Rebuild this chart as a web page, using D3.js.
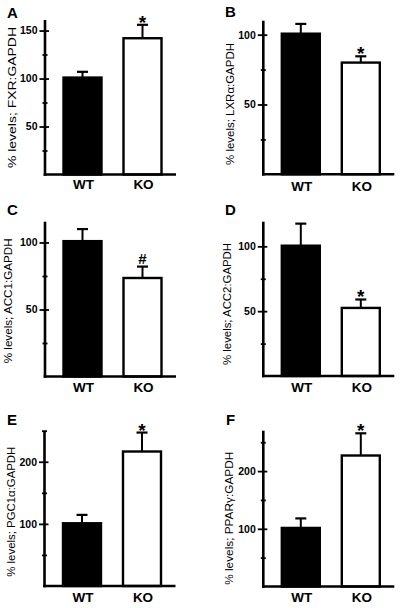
<!DOCTYPE html>
<html>
<head>
<meta charset="utf-8">
<script src="https://cdn.jsdelivr.net/npm/d3@7"></script>
<style>
  html, body { margin: 0; padding: 0; background: #fff; }
  svg { display: block; }
  text { font-family: "Liberation Sans", Arial, sans-serif; fill: #000; }
</style>
</head>
<body>
<script>
// ---------- DATA ----------
const panelLetters = ["A", "B", "C", "D", "E", "F"];
const yLabels = [
  "% levels; FXR:GAPDH",
  "% levels; LXRα:GAPDH",
  "% levels; ACC1:GAPDH",
  "% levels; ACC2:GAPDH",
  "% levels; PGC1α:GAPDH",
  "% levels; PPARγ:GAPDH"
];
const groups = ["WT", "KO"];
const wtValues = [101, 100.7, 101, 100.5, 101, 101.5];
const wtErrors = [6, 7, 9, 17, 13.5, 16.5];
const koValues = [142, 80, 73.5, 52.5, 216.5, 227];
const koErrors = [14, 4.5, 8.5, 6.5, 30.5, 38.5];
const koMarks = ["*", "*", "#", "*", "*", "*"];
const yMax = [161, 110, 115.5, 119, 250, 270];
const majorTicks = [[50, 100, 150], [50, 100], [50, 100], [50, 100], [100, 200], [100, 200]];
const minorTicks = [[25, 75, 125], [25, 75], [25, 75], [25, 75], [50, 150, 250], [50, 150, 250]];

// ---------- LAYOUT ----------
const layout = [
  { ax: 45,    y0: 174.5, yTop: 20,    lx: 15.7,  ly: 97.5,  len: 141, letX: 7,   letY: 18,  labY: 189 },
  { ax: 263.3, y0: 174.3, yTop: 20.7,  lx: 234.3, ly: 104,   len: 122, letX: 225, letY: 17,  labY: 191 },
  { ax: 45,    y0: 376.5, yTop: 221.7, lx: 12.3,  ly: 300.8, len: 125, letX: 7,   letY: 215, labY: 391.5 },
  { ax: 263.3, y0: 376,   yTop: 221.7, lx: 231,   ly: 304,   len: 122, letX: 225, letY: 215, labY: 392 },
  { ax: 44.5,  y0: 586,   yTop: 430.7, lx: 15,    ly: 511.7, len: 130, letX: 7,   letY: 425, labY: 601.5 },
  { ax: 263.3, y0: 586.5, yTop: 430.7, lx: 233.3, ly: 518.3, len: 133, letX: 226, letY: 425, labY: 601.5 }
];

const svg = d3.select("body").append("svg")
  .attr("width", 400).attr("height", 608);

panelLetters.forEach((letter, i) => {
  const L = layout[i];
  const g = svg.append("g");

  const y = d3.scaleLinear().domain([0, yMax[i]]).range([L.y0, L.yTop]);
  const x = d3.scaleBand().domain(groups)
    .range([L.ax + 17.5, L.ax + 117.5]).paddingInner(1 / 3).paddingOuter(0);
  const bw = x.bandwidth();

  const values = [wtValues[i], koValues[i]];
  const errors = [wtErrors[i], koErrors[i]];
  const rows = groups.map((gname, k) => ({ g: gname, v: values[k], e: errors[k] }));

  // error bars (upward only)
  rows.forEach(r => {
    const cx = x(r.g) + bw / 2;
    g.append("line")
      .attr("x1", cx).attr("x2", cx)
      .attr("y1", y(r.v)).attr("y2", y(r.v + r.e))
      .attr("stroke", "#000").attr("stroke-width", 2);
    g.append("line")
      .attr("x1", cx - 5.5).attr("x2", cx + 5.5)
      .attr("y1", y(r.v + r.e)).attr("y2", y(r.v + r.e))
      .attr("stroke", "#000").attr("stroke-width", 2.2);
  });

  // bars
  g.selectAll("rect.bar").data(rows).enter().append("rect")
    .attr("class", "bar")
    .attr("x", d => x(d.g) + 1)
    .attr("y", d => y(d.v))
    .attr("width", bw - 2)
    .attr("height", d => y(0) - y(d.v))
    .attr("fill", d => d.g === "WT" ? "#000" : "#fff")
    .attr("stroke", "#000")
    .attr("stroke-width", 2.4);

  // significance mark
  const kr = rows[1];
  const kcx = x(kr.g) + bw / 2;
  const mark = koMarks[i];
  g.append("text")
    .attr("x", kcx)
    .attr("y", mark === "#" ? y(kr.v + kr.e) - 3 : y(kr.v + kr.e) + 4)
    .attr("text-anchor", "middle")
    .attr("font-weight", "bold")
    .attr("font-size", mark === "#" ? 15 : 19)
    .text(mark);

  // y axis: major ticks (crossing the axis)
  const majLeft = d3.axisLeft(y).tickValues(majorTicks[i]).tickSizeInner(5.5).tickSizeOuter(0)
    .tickPadding(2).tickFormat(d3.format("d"));
  const ga = g.append("g").attr("transform", `translate(${L.ax},0)`).call(majLeft);
  ga.select(".domain").remove();
  ga.selectAll(".tick line").attr("stroke", "#000").attr("stroke-width", 1.8);
  ga.selectAll(".tick text").attr("font-size", 10.5).attr("font-weight", "bold")
    .attr("font-family", "Liberation Sans, Arial, sans-serif").attr("fill", "#000");

  const majRight = d3.axisRight(y).tickValues(majorTicks[i]).tickSizeInner(4).tickSizeOuter(0).tickFormat("");
  const gb = g.append("g").attr("transform", `translate(${L.ax},0)`).call(majRight);
  gb.select(".domain").remove();
  gb.selectAll(".tick line").attr("stroke", "#000").attr("stroke-width", 1.8);

  // minor ticks
  [d3.axisLeft(y), d3.axisRight(y)].forEach(ax => {
    const gm = g.append("g").attr("transform", `translate(${L.ax},0)`)
      .call(ax.tickValues(minorTicks[i]).tickSizeInner(2.5).tickSizeOuter(0).tickFormat(""));
    gm.select(".domain").remove();
    gm.selectAll(".tick line").attr("stroke", "#000").attr("stroke-width", 1.8);
  });

  // axis lines
  g.append("line")
    .attr("x1", L.ax).attr("x2", L.ax)
    .attr("y1", y(yMax[i])).attr("y2", y(0) + 1.3)
    .attr("stroke", "#000").attr("stroke-width", 2.6);
  g.append("line")
    .attr("x1", L.ax - 1.3).attr("x2", L.ax + 131)
    .attr("y1", y(0)).attr("y2", y(0))
    .attr("stroke", "#000").attr("stroke-width", 2.6);

  // group labels
  g.selectAll("text.grp").data(groups).enter().append("text")
    .attr("class", "grp")
    .attr("x", d => x(d) + bw / 2 + 1)
    .attr("y", L.labY)
    .attr("text-anchor", "middle")
    .attr("font-weight", "bold")
    .attr("font-size", 13.5)
    .text(d => d);

  // y label
  g.append("text")
    .attr("transform", `translate(${L.lx},${L.ly}) rotate(-90)`)
    .attr("text-anchor", "middle")
    .attr("font-size", 11)
    .attr("textLength", L.len)
    .attr("lengthAdjust", "spacingAndGlyphs")
    .text(yLabels[i]);

  // panel letter
  g.append("text")
    .attr("x", L.letX).attr("y", L.letY)
    .attr("font-weight", "bold")
    .attr("font-size", 15)
    .text(letter);
});
</script>
</body>
</html>
